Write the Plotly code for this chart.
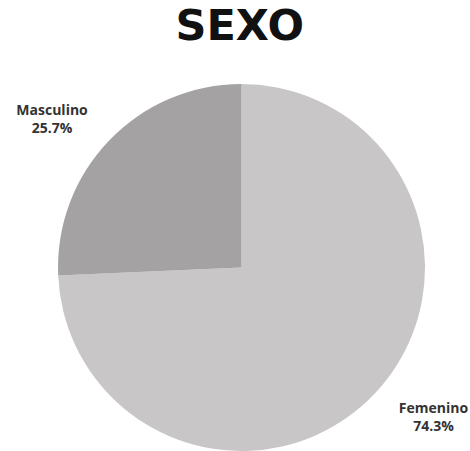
import plotly.graph_objects as go

labels = ["Femenino", "Masculino"]
values = [74.3, 25.7]
colors = ["#c8c6c6", "#a4a2a2"]

pad_f = "\u00a0" * 3
pad_m = "\u00a0" * 2
templates = [
    "\u00a0<br>" + pad_f + "<b>%{label}</b><br>" + pad_f + "<b>%{value:.1f}%</b>",
    "<b>%{label}</b>" + pad_m + "<br><b>%{value:.1f}%</b>" + pad_m + "<br>\u00a0",
]

fig = go.Figure(go.Pie(
    labels=labels,
    values=values,
    sort=False,
    direction="clockwise",
    rotation=0,
    marker=dict(colors=colors, line=dict(width=0)),
    textposition="outside",
    texttemplate=templates,
    textfont=dict(family="Open Sans", size=14, color="#333333"),
    showlegend=False,
    hoverinfo="label+percent",
))

fig.update_layout(
    width=470, height=451,
    margin=dict(l=13, r=0, t=84, b=0, autoexpand=False),
    paper_bgcolor="white",
    plot_bgcolor="white",
    title=dict(text="SEXO", x=0.51, xanchor="center", y=0.944, yanchor="middle",
               font=dict(family="DejaVu Sans", size=43, color="#111111", weight="bold")),
)

fig.write_html("out.html")
